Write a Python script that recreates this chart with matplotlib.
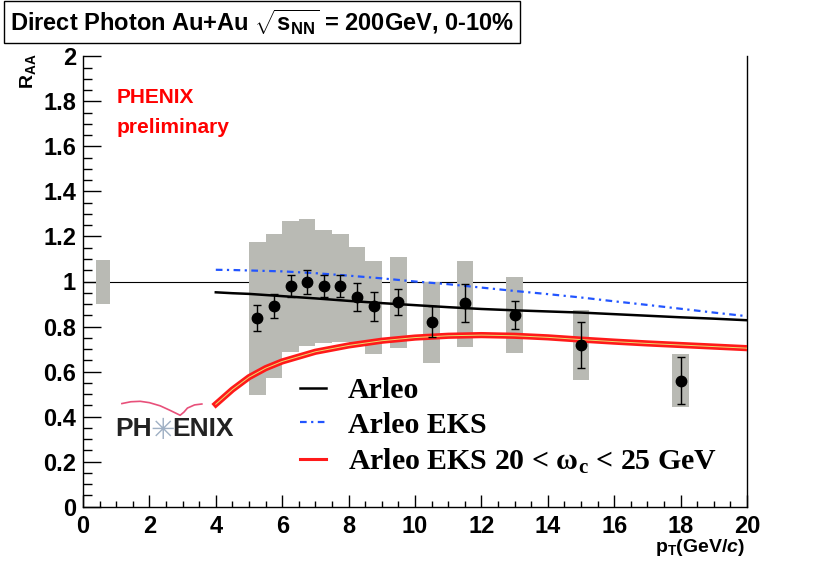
import matplotlib
matplotlib.use('Agg')
import matplotlib.pyplot as plt
from matplotlib.ticker import MultipleLocator
from matplotlib.lines import Line2D
import numpy as np

# mathtext fonts: sans bold for labels, serif bold for legend subscript
plt.rcParams['mathtext.fontset'] = 'custom'
plt.rcParams['mathtext.rm'] = 'Liberation Sans:bold'
plt.rcParams['mathtext.it'] = 'Liberation Sans:bold:italic'
plt.rcParams['mathtext.sf'] = 'Liberation Sans:bold'
plt.rcParams['mathtext.bf'] = 'Liberation Serif:bold'

# PHENIX direct photon R_AA, 0-10% central Au+Au
pt = [5.25, 5.75, 6.25, 6.75, 7.25, 7.75, 8.25, 8.75, 9.5, 10.5, 11.5, 13.0, 15.0, 18.0]
raa = [0.837, 0.892, 0.979, 0.997, 0.979, 0.979, 0.933, 0.889, 0.910, 0.821, 0.904, 0.853, 0.719, 0.559]
stat_err = [0.058, 0.054, 0.050, 0.052, 0.050, 0.050, 0.062, 0.066, 0.058, 0.068, 0.085, 0.062, 0.102, 0.105]
sys_lo = [0.497, 0.571, 0.685, 0.714, 0.725, 0.730, 0.720, 0.680, 0.706, 0.640, 0.711, 0.682, 0.564, 0.441]
sys_hi = [1.177, 1.213, 1.269, 1.277, 1.228, 1.210, 1.151, 1.092, 1.109, 0.998, 1.092, 1.021, 0.874, 0.680]

# normalization uncertainty box at R_AA = 1
norm_x = 0.6
norm_lo = 0.899
norm_hi = 1.095

# theory curves (Arleo)
th_pt = [4, 4.5, 5, 5.5, 6, 7, 8, 9, 10, 11, 12, 13, 14, 15, 16, 17, 18, 19, 20]
arleo = [0.952, 0.948, 0.945, 0.940, 0.935, 0.925, 0.914, 0.904, 0.895, 0.886, 0.878, 0.872,
         0.867, 0.862, 0.855, 0.848, 0.841, 0.835, 0.828]
arleo_eks = [1.052, 1.051, 1.049, 1.047, 1.045, 1.037, 1.026, 1.014, 1.000, 0.988, 0.973, 0.958,
             0.944, 0.929, 0.912, 0.896, 0.879, 0.862, 0.846]
arleo_eloss = [0.455, 0.520, 0.575, 0.615, 0.645, 0.688, 0.716, 0.737, 0.751, 0.759, 0.762, 0.759,
               0.752, 0.742, 0.733, 0.725, 0.718, 0.711, 0.704]

fig = plt.figure(figsize=(8.3, 5.63), dpi=100)
ax = fig.add_axes([0.1, 0.1, 0.8, 0.8])

gray = '#b9bab4'
blue = '#2255ff'
red = '#ff1a1a'
ax.axhline(1.0, color='black', lw=0.8, zorder=1)
ax.bar(pt, np.array(sys_hi) - np.array(sys_lo), bottom=sys_lo, width=0.5,
       color=gray, edgecolor='none', zorder=2)
ax.bar([norm_x], [norm_hi - norm_lo], bottom=[norm_lo], width=0.4,
       color=gray, edgecolor='none', zorder=2)

ax.plot(th_pt, arleo, color='black', lw=1.8, zorder=3)
ax.plot(th_pt, arleo_eks, color=blue, lw=1.6, ls=(0, (3, 2, 1, 2)), zorder=3)
ax.plot(th_pt, arleo_eloss, color=red, lw=4.5, zorder=3)
ax.plot(th_pt, arleo_eloss, color='#e8e070', lw=0.7, zorder=3)

ax.errorbar(pt, raa, yerr=stat_err, fmt='o', color='black', ms=7.5,
            elinewidth=1, capsize=2.8, capthick=1, zorder=4)

ax.set_xlim(0, 20)
ax.set_ylim(0, 2)
ax.xaxis.set_major_locator(MultipleLocator(2))
ax.xaxis.set_minor_locator(MultipleLocator(0.5))
ax.yaxis.set_minor_locator(MultipleLocator(0.05))
ax.set_yticks(np.arange(0, 2.01, 0.2))
ax.set_yticklabels(['0', '0.2', '0.4', '0.6', '0.8', '1', '1.2', '1.4', '1.6', '1.8', '2'])
ax.tick_params(axis='x', which='major', direction='in', length=8.6, width=1, pad=6)
ax.tick_params(axis='x', which='minor', direction='in', length=4.3, width=1)
ax.tick_params(axis='y', which='major', direction='in', length=13, width=1, pad=5)
ax.tick_params(axis='y', which='minor', direction='in', length=6.5, width=1)
for lab in ax.get_xticklabels() + ax.get_yticklabels():
    lab.set_fontfamily('Liberation Sans')
    lab.set_fontweight('bold')
    lab.set_fontsize(17)
ax.spines['top'].set_visible(False)
for s in ['left', 'bottom', 'right']:
    ax.spines[s].set_linewidth(1)

# axis titles, ROOT style
fig.text(0.034, 0.906, r'R$_\mathrm{AA}$', rotation=90, ha='center', va='top',
         fontsize=14, family='Liberation Sans', weight='bold')
fig.text(0.898, 0.020, r'p$_\mathrm{T}$(GeV/$\mathit{c}$)', ha='right', va='baseline',
         fontsize=14, family='Liberation Sans', weight='bold')

# title box
fig.text(0.012, 0.961, r'Direct Photon Au+Au $\sqrt{\mathrm{s}_{\mathrm{NN}}}$ = 200GeV, 0-10%',
         ha='left', va='center', fontsize=17, family='Liberation Sans', weight='bold',
         bbox=dict(boxstyle='square,pad=0.25', facecolor='white', edgecolor='black', lw=1))

# preliminary label
ax.text(0.051, 0.896, 'PHENIX', transform=ax.transAxes, color='red', fontsize=15,
        family='Liberation Sans', weight='bold', va='baseline')
ax.text(0.051, 0.830, 'preliminary', transform=ax.transAxes, color='red', fontsize=15,
        family='Liberation Sans', weight='bold', va='baseline')

# PHENIX logo (approximate)
ax.text(0.0486, 0.157, 'PH', transform=ax.transAxes, color='#222222', fontsize=19,
        family='Liberation Sans', weight='bold', va='baseline')
ax.text(0.1195, 0.150, '✳', transform=ax.transAxes, color='#9fb0c4', fontsize=21,
        family='DejaVu Sans', va='baseline', ha='center')
ax.text(0.134, 0.157, 'ENIX', transform=ax.transAxes, color='#222222', fontsize=19,
        family='Liberation Sans', weight='bold', va='baseline')
wing_x = [0.0586, 0.072, 0.0862, 0.100, 0.1162, 0.131, 0.1463, 0.152, 0.1573, 0.168, 0.179]
wing_y = [0.229, 0.233, 0.234, 0.231, 0.224, 0.214, 0.203, 0.210, 0.219, 0.226, 0.228]
ax.plot(wing_x, wing_y, transform=ax.transAxes, color='#e8507a', lw=1.2, zorder=5)

handles = [Line2D([], [], color='black', lw=1.8),
           Line2D([], [], color=blue, lw=1.6, ls=(0, (3, 2, 1, 2))),
           Line2D([], [], color=red, lw=2.2)]
labels = ['Arleo', 'Arleo EKS', r'Arleo EKS 20 < ω$_\mathbf{c}$ < 25 GeV']
ax.legend(handles, labels, loc='upper left', bbox_to_anchor=(0.327, 0.287),
          frameon=False, borderpad=0, borderaxespad=0, handlelength=0.85,
          handletextpad=0.75, labelspacing=0.25,
          prop={'family': 'Liberation Serif', 'weight': 'bold', 'size': 21.5})

fig.savefig('out.png', dpi=100)
